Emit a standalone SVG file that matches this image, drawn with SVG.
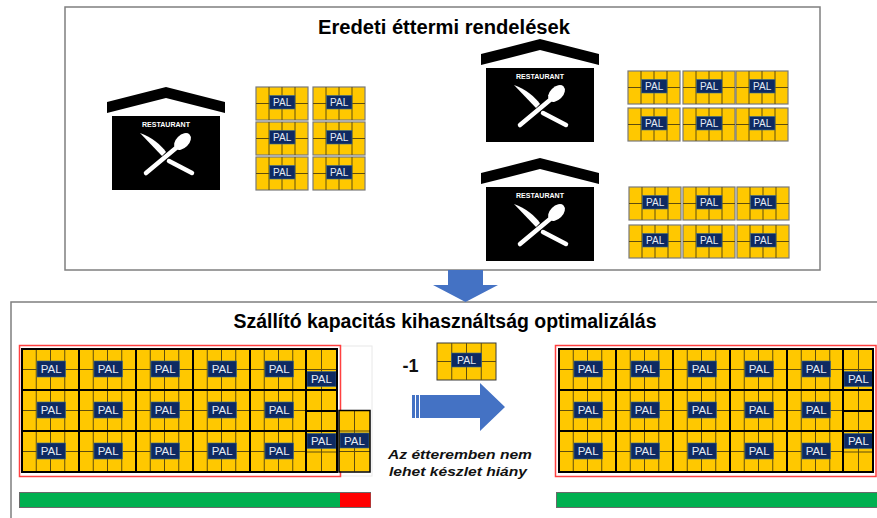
<svg xmlns="http://www.w3.org/2000/svg" xmlns:xlink="http://www.w3.org/1999/xlink" width="877" height="518" viewBox="0 0 877 518">
  <style>
    text { font-family: "Liberation Sans", Arial, sans-serif; }
    .frame { fill: #fff; stroke: #7f7f7f; stroke-width: 1.5; }
    .title { font-weight: bold; font-size: 20px; fill: #000; text-anchor: middle; }
    .pal { fill: #E4EBF4; text-anchor: middle; }
    .lbl { fill: #0E2A62; stroke: #3B6C8C; stroke-width: 0.6; }
    .sub { stroke: #5E4C0E; stroke-width: 1; fill: none; }
    .grid { stroke: #000; stroke-width: 2; fill: none; }
    .arrow { fill: #4472C4; }
    .note { font-style: italic; font-weight: bold; font-size: 13.5px; fill: #111; text-anchor: middle; }
  </style>
  <defs>
    <!-- restaurant pictogram: roof + black sign with cutlery -->
    <g id="restIcon">
      <polygon points="-5,-14 54,-29 113,-14 113,-3 54,-18 -5,-3" fill="#000"/>
      <rect width="108" height="74" fill="#000"/>
      <text x="54" y="10.5" font-size="6.5" font-weight="bold" fill="#fff" text-anchor="middle" textLength="48" lengthAdjust="spacingAndGlyphs">RESTAURANT</text>
      <path d="M28 17 C40 21 49 29 54 36 L50 40 Z" fill="#fff"/>
      <line x1="57" y1="45" x2="80" y2="57" stroke="#fff" stroke-width="4.5" stroke-linecap="round"/>
      <line x1="34" y1="57" x2="64" y2="32" stroke="#fff" stroke-width="4.5" stroke-linecap="round"/>
      <ellipse cx="70.5" cy="25.5" rx="10" ry="6.5" transform="rotate(-45 70.5 25.5)" fill="#fff"/>
    </g>
    <!-- small pallet used in the order lists -->
    <g id="palTop">
      <rect width="52" height="33" fill="#FFC800" stroke="#7a7a7a" stroke-width="1.2"/>
      <path class="sub" d="M13 0V33M26 0V33M39 0V33M0 16.5H52"/>
      <rect class="lbl" x="13.5" y="8.5" width="25.5" height="13.5"/>
      <text class="pal" x="26.2" y="19.3" font-size="10">PAL</text>
    </g>
    <!-- pallet slot inside the truck -->
    <g id="palTruck">
      <rect width="57" height="41" fill="#FFC800"/>
      <path class="sub" d="M14.25 0V41M28.5 0V41M42.75 0V41M0 20.5H57"/>
      <rect class="lbl" x="15" y="12" width="28.5" height="16"/>
      <text class="pal" x="29.2" y="24.2" font-size="11.5">PAL</text>
    </g>
    <!-- pallet turned sideways (end of the truck) -->
    <g id="palNarrow">
      <rect width="31" height="61" fill="#FFC800"/>
      <path class="sub" d="M15.5 0V61M0 20.5H31M0 41H31"/>
      <rect class="lbl" x="1" y="22.5" width="29" height="15"/>
      <text class="pal" x="15.5" y="34.2" font-size="11.5">PAL</text>
    </g>
  </defs>

  <!-- upper panel: original orders -->
  <g id="orders-panel">
    <rect class="frame" x="65" y="7" width="755" height="263"/>
    <text class="title" x="444" y="34" textLength="252" lengthAdjust="spacingAndGlyphs">Eredeti éttermi rendelések</text>
  </g>

  <g id="restaurant-1">
    <use href="#restIcon" x="112" y="116"/>
  </g>
  <g id="order-1">
    <use href="#palTop" x="256" y="87"/>
    <use href="#palTop" x="313" y="87"/>
    <use href="#palTop" x="256" y="122"/>
    <use href="#palTop" x="313" y="122"/>
    <use href="#palTop" x="256" y="157"/>
    <use href="#palTop" x="313" y="157"/>
  </g>

  <g id="restaurant-2">
    <use href="#restIcon" x="486" y="68"/>
  </g>
  <g id="order-2">
    <use href="#palTop" x="628" y="71"/>
    <use href="#palTop" x="683" y="71"/>
    <use href="#palTop" x="736" y="71"/>
    <use href="#palTop" x="628" y="108"/>
    <use href="#palTop" x="683" y="108"/>
    <use href="#palTop" x="736" y="108"/>
  </g>

  <g id="restaurant-3">
    <use href="#restIcon" x="486" y="187"/>
  </g>
  <g id="order-3">
    <use href="#palTop" x="629" y="187"/>
    <use href="#palTop" x="683" y="187"/>
    <use href="#palTop" x="737" y="187"/>
    <use href="#palTop" x="629" y="225"/>
    <use href="#palTop" x="683" y="225"/>
    <use href="#palTop" x="737" y="225"/>
  </g>

  <!-- lower panel: load optimisation -->
  <g id="optimisation-panel">
    <rect class="frame" x="11" y="302" width="880" height="230"/>
    <text class="title" x="445" y="328" font-size="21" textLength="423" lengthAdjust="spacingAndGlyphs">Szállító kapacitás kihasználtság optimalizálás</text>
  </g>

  <!-- truck before optimisation -->
  <g id="truck-before">
    <rect x="340" y="346" width="32" height="130" fill="none" stroke="#e8e8e8" stroke-width="1"/>
    <rect x="19.5" y="345.5" width="321" height="131" fill="none" stroke="#FF4040" stroke-width="1.5"/>
    <use href="#palTruck" x="22" y="349"/>
    <use href="#palTruck" x="79" y="349"/>
    <use href="#palTruck" x="136" y="349"/>
    <use href="#palTruck" x="193" y="349"/>
    <use href="#palTruck" x="250" y="349"/>
    <use href="#palTruck" x="22" y="390"/>
    <use href="#palTruck" x="79" y="390"/>
    <use href="#palTruck" x="136" y="390"/>
    <use href="#palTruck" x="193" y="390"/>
    <use href="#palTruck" x="250" y="390"/>
    <use href="#palTruck" x="22" y="431"/>
    <use href="#palTruck" x="79" y="431"/>
    <use href="#palTruck" x="136" y="431"/>
    <use href="#palTruck" x="193" y="431"/>
    <use href="#palTruck" x="250" y="431"/>
    <use href="#palNarrow" x="306" y="349"/>
    <use href="#palNarrow" x="306" y="411"/>
    <path class="grid" d="M22 349H337V472H22ZM79 349V472M136 349V472M193 349V472M250 349V472M306 349V472M22 390H337M22 431H337M306 411H337"/>
    <!-- surplus pallet sticking out -->
    <use href="#palNarrow" x="339" y="410.5"/>
    <rect x="339" y="410.5" width="31" height="61.5" fill="none" stroke="#000" stroke-width="1.5"/>
    <rect x="19.5" y="492.5" width="351" height="15" fill="#00B050" stroke="#6a6a6a" stroke-width="1"/>
    <rect x="340" y="493" width="30.5" height="14" fill="#FF0000"/>
  </g>

  <!-- pallet taken off -->
  <g id="removed-pallet">
    <text x="410.5" y="372" font-size="18" font-weight="bold" text-anchor="middle" fill="#111">-1</text>
    <rect x="437" y="343" width="59" height="37" fill="#FFC800" stroke="#3a3a3a" stroke-width="1"/>
    <path class="sub" d="M451.75 343V380M466.5 343V380M481.25 343V380M437 361.5H496"/>
    <rect class="lbl" x="451.5" y="353" width="30" height="14"/>
    <text class="pal" x="466.5" y="364" font-size="10.5">PAL</text>
  </g>

  <g id="note">
    <text class="note" x="460" y="459" textLength="144" lengthAdjust="spacingAndGlyphs">Az étteremben nem</text>
    <text class="note" x="458" y="476" textLength="138" lengthAdjust="spacingAndGlyphs">lehet készlet hiány</text>
  </g>

  <!-- truck after optimisation -->
  <g id="truck-after">
    <rect x="555.5" y="345.5" width="320.5" height="131" fill="none" stroke="#FF4040" stroke-width="1.5"/>
    <use href="#palTruck" x="559" y="349"/>
    <use href="#palTruck" x="616" y="349"/>
    <use href="#palTruck" x="673" y="349"/>
    <use href="#palTruck" x="730" y="349"/>
    <use href="#palTruck" x="787" y="349"/>
    <use href="#palTruck" x="559" y="390"/>
    <use href="#palTruck" x="616" y="390"/>
    <use href="#palTruck" x="673" y="390"/>
    <use href="#palTruck" x="730" y="390"/>
    <use href="#palTruck" x="787" y="390"/>
    <use href="#palTruck" x="559" y="431"/>
    <use href="#palTruck" x="616" y="431"/>
    <use href="#palTruck" x="673" y="431"/>
    <use href="#palTruck" x="730" y="431"/>
    <use href="#palTruck" x="787" y="431"/>
    <use href="#palNarrow" x="843" y="349"/>
    <use href="#palNarrow" x="843" y="411"/>
    <path class="grid" d="M559 349H873V472H559ZM616 349V472M673 349V472M730 349V472M787 349V472M843 349V472M559 390H873M559 431H873M843 411H873"/>
    <rect x="556.5" y="492.5" width="322" height="15" fill="#00B050" stroke="#6a6a6a" stroke-width="1"/>
  </g>

  <!-- block arrows -->
  <g id="connectors">
    <polygon class="arrow" points="448,270 483,270 483,285 498,285 465.5,302 433,285 448,285"/>
    <rect class="arrow" x="412" y="395" width="3" height="23"/>
    <rect class="arrow" x="416" y="395" width="3" height="23"/>
    <polygon class="arrow" points="420,395 480,395 480,383 505,407 480,431 480,418 420,418"/>
  </g>
</svg>
